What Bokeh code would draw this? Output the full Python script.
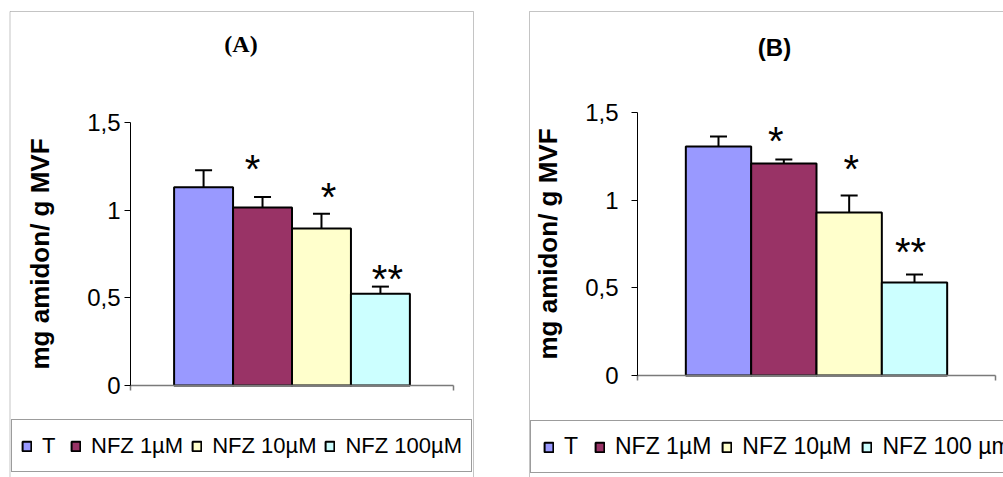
import numpy as np
from bokeh.plotting import figure
from bokeh.models import (ColumnDataSource, Whisker, TeeHead, Legend, LegendItem,
                          FixedTicker, BoxAnnotation, Label, LinearAxis, Range1d)
from bokeh.layouts import row
from bokeh.core.properties import value
from bokeh.embed import file_html
from bokeh.resources import INLINE

# Starch content (mg amidon / g MVF) under nitrofurazone treatments
treatments_a = ["T", "NFZ 1µM", "NFZ 10µM", "NFZ 100µM"]
starch_a = [1.13, 1.015, 0.895, 0.524]
sem_a = [0.097, 0.06, 0.085, 0.04]
signif_a = ["", "*", "*", "**"]

treatments_b = ["T", "NFZ 1µM", "NFZ 10µM", "NFZ 100 µm"]
starch_b = [1.306, 1.209, 0.93, 0.53]
sem_b = [0.057, 0.023, 0.097, 0.046]
signif_b = ["", "*", "*", "**"]

y_ticks = [0, 0.5, 1, 1.5]
y_tick_labels = ["0", "0,5", "1", "1,5"]
bar_colors = ["#9999FF", "#993366", "#FFFFCC", "#CCFFFF"]

SANS = "Liberation Sans"


def make_panel(labels, vals, errs, stars, cfg):
    W, H = cfg["width"], 477
    ax0, ax1 = cfg["axis_px"], cfg["axis_end_px"]
    z0, z15 = cfg["zero_px"], cfg["top_px"]
    ppu = (z0 - z15) / 1.5          # pixels per unit on y
    ppx = ax1 - ax0                 # pixels per category width on x

    def dx(px):
        return (px - ax0) / ppx

    def dy(py):
        return (z0 - py) / ppu

    p = figure(width=W, height=H, x_range=Range1d(dx(0), dx(W)),
               y_range=Range1d(dy(H), dy(0)), min_border=0,
               toolbar_location=None, output_backend="svg",
               x_axis_location=None, y_axis_location=None,
               outline_line_color=None, background_fill_color="white",
               border_fill_color="white")
    for g in p.grid:
        g.visible = False

    # outer chart border
    p.add_layout(BoxAnnotation(left=dx(cfg["box"][0]), right=dx(cfg["box"][2]),
                               top=dy(cfg["box"][1]), bottom=dy(cfg["box"][3]),
                               fill_alpha=0, line_color="#3a3a3a", line_width=1,
                               level="underlay"))

    n = len(vals)
    group = 0.73
    bw = group / n
    xs = 0.5 + (np.arange(n) - (n - 1) / 2) * bw
    vals = np.asarray(vals, dtype=float)
    errs = np.asarray(errs, dtype=float)
    src = ColumnDataSource(dict(
        x=xs, top=vals, upper=vals + errs, color=bar_colors[:n], star=stars,
        sx=cfg["star_dx"], sy=[cfg["star_base"] - g for g in cfg["star_gap"]],
    ))

    bars = p.vbar(x="x", top="top", bottom=0, width=bw, fill_color="color",
                  line_color="black", line_width=2, source=src)

    p.add_layout(Whisker(base="x", lower="top", upper="upper", source=src,
                         dimension="height", line_color="black", line_width=2,
                         upper_head=TeeHead(size=17, line_color="black", line_width=2),
                         lower_head=None, level="glyph"))

    p.text(x="x", y="upper", text="star", x_offset="sx", y_offset="sy", source=src,
           text_align="center", text_baseline="alphabetic",
           text_font=value(SANS), text_font_size=cfg["star_size"], text_color="black")

    yaxis = LinearAxis(fixed_location=0, bounds=(0, 1.5),
                       ticker=FixedTicker(ticks=y_ticks),
                       major_label_overrides={t: s for t, s in zip(y_ticks, y_tick_labels)},
                       axis_line_color="black", axis_line_width=1,
                       major_tick_line_color="black", major_tick_out=6, major_tick_in=0,
                       minor_tick_line_color=None,
                       major_label_text_font=SANS, major_label_text_font_size="24px",
                       major_label_text_color="black",
                       major_label_standoff=cfg["tick_standoff"],
                       axis_label="mg amidon/ g MVF", axis_label_text_font=SANS,
                       axis_label_text_font_style="bold", axis_label_text_font_size="26px",
                       axis_label_text_color="black",
                       axis_label_standoff=cfg["label_standoff"])
    p.add_layout(yaxis, "left")

    xaxis = LinearAxis(fixed_location=0, bounds=(0, 1),
                       ticker=FixedTicker(ticks=[0, 1]),
                       major_label_overrides={0: "", 1: ""},
                       axis_line_color="#7a7a7a", axis_line_width=1.5,
                       major_tick_line_color="#7a7a7a", major_tick_line_width=1.5,
                       major_tick_out=5, major_tick_in=0, minor_tick_line_color=None)
    p.add_layout(xaxis, "below")

    p.add_layout(Label(x=dx(cfg["title_pos"][0]), y=dy(cfg["title_pos"][1]),
                       text=cfg["title"], text_font=cfg["title_font"],
                       text_font_style="bold", text_font_size=cfg["title_size"],
                       text_align="center", text_baseline="middle", text_color="black"))

    items = [LegendItem(label=lab, renderers=[bars], index=i) for i, lab in enumerate(labels)]
    legend = Legend(items=items, orientation="horizontal", location=cfg["legend_loc"],
                    glyph_width=11, glyph_height=12, label_standoff=10,
                    spacing=cfg["legend_spacing"],
                    padding=cfg["legend_pad"], margin=0, label_height=cfg["legend_row"],
                    label_text_font=SANS, label_text_font_size=cfg["legend_size"],
                    label_text_color="black", border_line_color="#3a3a3a",
                    border_line_width=1, background_fill_color="white",
                    background_fill_alpha=1)
    p.add_layout(legend)
    return p


cfg_a = dict(width=500, axis_px=130, axis_end_px=453, zero_px=385, top_px=122,
             box=(9.5, 11, 473, 500), title="(A)", title_font="Liberation Serif",
             title_size="24px", title_pos=(240.5, 43),
             legend_loc=(11, 5), legend_pad=9, legend_row=33, legend_size="22px",
             legend_spacing=8,
             tick_standoff=4, label_standoff=29,
             star_size="40px", star_base=6, star_gap=[0, 34, 23, 14], star_dx=[0, -10, 7, 7])

cfg_b = dict(width=503, axis_px=137, axis_end_px=495, zero_px=375, top_px=112,
             box=(29, 11, 530, 500), title="(B)", title_font=SANS,
             title_size="24px", title_pos=(274, 47),
             legend_loc=(30, 4), legend_pad=12, legend_row=27, legend_size="23px",
             legend_spacing=10,
             tick_standoff=13, label_standoff=19,
             star_size="40px", star_base=6, star_gap=[0, 24, 32, 29], star_dx=[0, -8, 2, -4])

pa = make_panel(treatments_a, starch_a, sem_a, signif_a, cfg_a)
pb = make_panel(treatments_b, starch_b, sem_b, signif_b, cfg_b)

layout = row(pa, pb, spacing=0)
open("out.html", "w").write(file_html(layout, INLINE))
